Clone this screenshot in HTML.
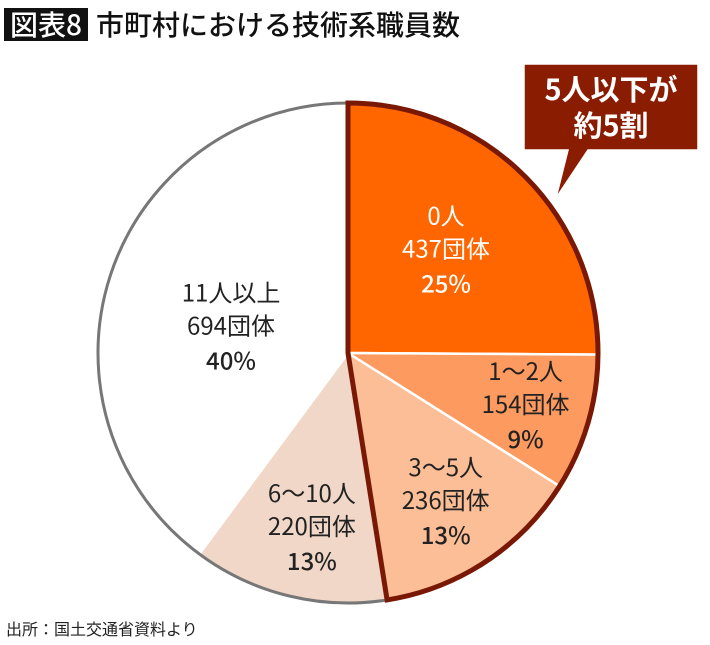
<!DOCTYPE html>
<html><head><meta charset="utf-8"><style>
body{margin:0;width:710px;height:645px;background:#fff;overflow:hidden;font-family:"Liberation Sans","Noto Sans CJK JP",sans-serif}
</style></head><body>
<svg width="710" height="645" style="position:absolute;left:0;top:0">
<rect x="4" y="8" width="84" height="33" fill="#111"/>
<text x="46" y="35" text-anchor="middle" fill="#fff" font-size="28" font-weight="500" font-family="Noto Sans CJK JP,sans-serif">図表8</text>
<text x="96" y="35" fill="#111" font-size="28" font-weight="500" font-family="Noto Sans CJK JP,sans-serif">市町村における技術系職員数</text>
<g id="slices"></g>
<g id="labels" font-size="24" text-anchor="middle" fill="#222" font-family="Noto Sans CJK JP,sans-serif"></g>
<g>
<path d="M524,64 H698 V150 H588 L556,198 L568,150 H524 Z" fill="#8a1c02" stroke="#fff" stroke-width="1.5"/>
<text x="611" y="100" text-anchor="middle" fill="#fff" font-size="29" font-weight="bold" font-family="Noto Sans CJK JP,sans-serif">5人以下が</text>
<text x="611" y="136" text-anchor="middle" fill="#fff" font-size="29" font-weight="bold" font-family="Noto Sans CJK JP,sans-serif">約5割</text>
</g>
<text x="6" y="635" font-size="16" fill="#222" font-family="Noto Sans CJK JP,sans-serif">出所：国土交通省資料より</text>
</svg>
<script>
const categories=["0人","1〜2人","3〜5人","6〜10人","11人以上"];
const counts=[437,154,236,220,694];
const percents=["25%","9%","13%","13%","40%"];
const colors=["#ff6600","#fd9a5f","#fbbe97","#f1d7c7","#ffffff"];
const cx=348,cy=353,R=250,NS="http://www.w3.org/2000/svg";
const total=counts.reduce((a,b)=>a+b,0);
const sg=document.getElementById('slices'),lg=document.getElementById('labels');
function pt(a,r){return [cx+r*Math.cos(a),cy+r*Math.sin(a)];}
function arcPath(a0,a1){const p0=pt(a0,R),p1=pt(a1,R);const large=(a1-a0)>Math.PI?1:0;
return `M${cx},${cy} L${p0[0]},${p0[1]} A${R},${R} 0 ${large} 1 ${p1[0]},${p1[1]} Z`;}
let a=-Math.PI/2;const angles=[];
counts.forEach((c,i)=>{const a1=a+c/total*2*Math.PI;angles.push([a,a1]);
const p=document.createElementNS(NS,'path');p.setAttribute('d',arcPath(a,a1));p.setAttribute('fill',colors[i]);
p.setAttribute('stroke','#fff');p.setAttribute('stroke-width','2.5');


sg.appendChild(p);a=a1;});
const rimStart=angles[3][0],rimEnd=angles[4][1];
{const p0=pt(rimStart,R),p1=pt(rimEnd,R);const rim=document.createElementNS(NS,'path');
rim.setAttribute('d',`M${p0[0]},${p0[1]} A${R},${R} 0 ${(rimEnd-rimStart)>Math.PI?1:0} 1 ${p1[0]},${p1[1]}`);
rim.setAttribute('fill','none');rim.setAttribute('stroke','#777');rim.setAttribute('stroke-width','3');


sg.appendChild(rim);}
{const h=document.createElementNS(NS,'path');h.setAttribute('d',arcPath(angles[0][0],angles[2][1]));
h.setAttribute('fill','none');h.setAttribute('stroke','#7a1806');h.setAttribute('stroke-width','5');h.setAttribute('stroke-linejoin','miter');


sg.appendChild(h);}
const labR=[0.57,0.74,0.71,0.71,0.48];
const labAngOff=[-0.03,0,0,-0.035,-0.094];
counts.forEach((c,i)=>{const m=(angles[i][0]+angles[i][1])/2+labAngOff[i];const p=pt(m,R*labR[i]);
const lines=[categories[i],c+"団体",percents[i]];
const g=document.createElementNS(NS,'g');


lines.forEach((t,j)=>{const tx=document.createElementNS(NS,'text');tx.setAttribute('x',p[0]);tx.setAttribute('y',p[1]+(j-1)*33+8+(j===2?2:0));
if(i===0)tx.setAttribute('fill','#fff');
if(j===2)tx.setAttribute('font-weight','500');
tx.textContent=t;g.appendChild(tx);});
lg.appendChild(g);});
</script>
</body></html>
